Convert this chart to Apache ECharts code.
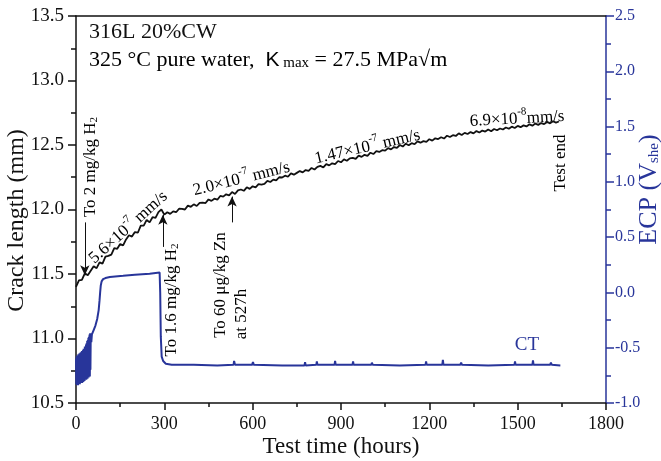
<!DOCTYPE html>
<html lang="en">
<head>
    <meta charset="UTF-8">
    <title>Crack length and ECP</title>
    <script src="https://cdn.jsdelivr.net/npm/echarts@6/dist/echarts.min.js"></script>
    <style>
        html, body { margin: 0; padding: 0; background: #fff; }
        #main { width: 661px; height: 461px; }
    </style>
</head>
<body>
    <div id="main"></div>
    <script type="text/javascript">
        // crack length (mm), sampled every 10 h from 0 h
        const crackStep = 10;
        const crackLen = [
            11.40, 11.45, 11.455, 11.505, 11.49, 11.525, 11.56, 11.545, 11.59, 11.58,
            11.635, 11.64, 11.65, 11.70, 11.695, 11.732, 11.722, 11.768, 11.80, 11.79,
            11.825, 11.82, 11.875, 11.875, 11.92, 11.90, 11.94, 11.935, 11.98, 12.00,
            11.96, 11.979, 11.966, 11.986, 11.979, 12.006, 12.005, 12.00, 12.03, 12.021,
            12.04, 12.027, 12.052, 12.053, 12.05, 12.078, 12.067, 12.084, 12.076, 12.105,
            12.10, 12.118, 12.11, 12.135, 12.12, 12.148, 12.155, 12.145, 12.172, 12.16,
            12.18, 12.172, 12.196, 12.193, 12.198, 12.222, 12.213, 12.232, 12.225, 12.25,
            12.248, 12.262, 12.254, 12.28, 12.27, 12.284, 12.298, 12.288, 12.306, 12.30,
            12.322, 12.31, 12.33, 12.338, 12.326, 12.352, 12.342, 12.358, 12.352, 12.376,
            12.366, 12.388, 12.378, 12.396, 12.40, 12.392, 12.418, 12.408, 12.424, 12.416,
            12.44, 12.43, 12.452, 12.446, 12.46, 12.456, 12.476, 12.466, 12.484, 12.478,
            12.50, 12.488, 12.51, 12.498, 12.514, 12.506, 12.528, 12.518, 12.53, 12.524,
            12.545, 12.534, 12.552, 12.546, 12.56, 12.55, 12.572, 12.562, 12.576, 12.57,
            12.59, 12.578, 12.594, 12.585, 12.60, 12.59, 12.608, 12.597, 12.612, 12.604,
            12.62, 12.607, 12.624, 12.614, 12.628, 12.62, 12.636, 12.626, 12.642, 12.632,
            12.648, 12.638, 12.652, 12.644, 12.66, 12.65, 12.666, 12.656, 12.67, 12.662,
            12.678, 12.668, 12.684, 12.674, 12.682
        ];

        // ECP (V_she) readings: time (h) and value
        const ecpTime = [
            0, 1, 2, 3, 4, 5, 6, 7, 8, 9, 10, 11, 12, 13, 14, 15, 16, 17, 18, 19,
            20, 21, 22, 23, 24, 25, 26, 27, 28, 29, 30, 31, 32, 33, 34, 35, 36, 37, 38, 39,
            40, 41, 42, 43, 44, 45, 46, 47, 48, 49, 50, 52, 54, 60, 66, 72, 77, 80, 82, 84,
            87, 92, 100, 115, 160, 200, 250, 284, 286, 288, 291, 296, 305, 325, 400, 480,
            535, 537, 540, 598, 601, 604, 700, 776, 778, 780, 816, 818, 820, 878, 880, 882,
            939, 941, 943, 1003, 1005, 1008, 1100, 1187, 1189, 1191, 1244, 1246, 1248,
            1305, 1308, 1311, 1400, 1489, 1491, 1493, 1550, 1552, 1554, 1610, 1613, 1616, 1645
        ];
        const ecpValue = [
            -0.60, -0.83, -0.58, -0.84, -0.57, -0.82, -0.59, -0.84, -0.56, -0.83,
            -0.57, -0.82, -0.55, -0.83, -0.56, -0.81, -0.54, -0.82, -0.55, -0.80,
            -0.53, -0.82, -0.54, -0.80, -0.52, -0.81, -0.51, -0.79, -0.52, -0.80,
            -0.49, -0.79, -0.50, -0.78, -0.47, -0.79, -0.46, -0.77, -0.44, -0.78,
            -0.43, -0.76, -0.41, -0.77, -0.40, -0.75, -0.38, -0.76, -0.37, -0.70,
            -0.40, -0.45, -0.38, -0.34, -0.30, -0.24, -0.16, -0.07, 0.00, 0.06,
            0.10, 0.12, 0.13, 0.14, 0.15, 0.16, 0.17, 0.18, 0.00, -0.40,
            -0.58, -0.62, -0.645, -0.655, -0.655, -0.66,
            -0.655, -0.62, -0.655, -0.655, -0.63, -0.655, -0.66, -0.66, -0.63, -0.66,
            -0.655, -0.625, -0.655, -0.655, -0.62, -0.655,
            -0.655, -0.625, -0.655, -0.655, -0.635, -0.655, -0.66, -0.655, -0.625, -0.655,
            -0.655, -0.61, -0.655,
            -0.655, -0.635, -0.655, -0.66, -0.655, -0.625, -0.655, -0.655, -0.615, -0.655,
            -0.655, -0.635, -0.655, -0.66
        ];

        // event arrows: time, from, to (crack length axis)
        const arrowTime = [30, 295, 530];
        const arrowFrom = [11.90, 11.71, 11.90];
        const arrowTo = [11.49, 11.96, 12.10];

        const xTicks = { min: 0, max: 1800, interval: 300 };
        const leftTicks = { min: 10.5, max: 13.5, interval: 0.5 };
        const rightTicks = { min: -1.0, max: 2.5, interval: 0.5 };

        const blue = '#28359a';
        const serif = 'Liberation Serif';

        const crackData = crackLen.map((v, i) => [i * crackStep, v]);
        const ecpData = ecpTime.map((t, i) => [t, ecpValue[i]]);
        const arrows = arrowTime.map((t, i) => [{ coord: [t, arrowFrom[i]] }, { coord: [t, arrowTo[i]] }]);

        const rich = {
            n: { fontFamily: serif, fontSize: 17, lineHeight: 21, verticalAlign: 'bottom', color: '#111' },
            sup: { fontFamily: serif, fontSize: 11, lineHeight: 11, verticalAlign: 'top', color: '#111' },
            sub: { fontFamily: serif, fontSize: 11, lineHeight: 11, verticalAlign: 'bottom', color: '#111' }
        };

        function note(text, x, y, deg) {
            return {
                type: 'text', x: x, y: y, rotation: deg * Math.PI / 180, silent: true,
                style: { text: text, rich: rich, align: 'center', verticalAlign: 'middle' }
            };
        }

        const chart = echarts.init(document.getElementById('main'));
        option = {
            animation: false,
            backgroundColor: '#fff',
            grid: { left: 76, right: 55, top: 16, bottom: 58, containLabel: false, outerBoundsMode: 'none' },
            xAxis: [{
                type: 'value',
                min: xTicks.min, max: xTicks.max, interval: xTicks.interval,
                name: 'Test time (hours)',
                nameLocation: 'middle',
                nameGap: 32,
                nameMoveOverlap: false,
                nameTextStyle: { fontFamily: serif, fontSize: 23, color: '#111' },
                axisLine: { onZero: false, lineStyle: { color: '#111', width: 1.5 } },
                axisTick: { length: 7, lineStyle: { color: '#111', width: 1.5 } },
                minorTick: { show: true, splitNumber: 2, length: 4, lineStyle: { color: '#111', width: 1.5 } },
                axisLabel: { fontFamily: serif, fontSize: 18, color: '#111', margin: 12, formatter: v => String(v) },
                splitLine: { show: false }
            }, {
                type: 'value', position: 'top',
                min: xTicks.min, max: xTicks.max,
                axisLine: { show: true, onZero: false, lineStyle: { color: '#111', width: 1.5 } },
                axisTick: { show: false },
                axisLabel: { show: false },
                splitLine: { show: false }
            }],
            yAxis: [{
                type: 'value', position: 'left',
                min: leftTicks.min, max: leftTicks.max, interval: leftTicks.interval,
                name: 'Crack length (mm)',
                nameLocation: 'middle',
                nameRotate: 90,
                nameGap: 47,
                nameMoveOverlap: false,
                nameTextStyle: { fontFamily: serif, fontSize: 24, color: '#111', padding: [0, 22, 0, 0] },
                axisLine: { show: true, onZero: false, lineStyle: { color: '#111', width: 1.5 } },
                axisTick: { length: 8, lineStyle: { color: '#111', width: 1.5 } },
                minorTick: { show: true, splitNumber: 2, length: 5, lineStyle: { color: '#111', width: 1.5 } },
                axisLabel: { fontFamily: serif, fontSize: 19, color: '#111', margin: 12, formatter: v => v.toFixed(1) },
                splitLine: { show: false }
            }, {
                type: 'value', position: 'right',
                min: rightTicks.min, max: rightTicks.max, interval: rightTicks.interval,
                name: '{a|ECP (V}{b|she}{a|)}',
                nameLocation: 'middle',
                nameRotate: 90,
                nameGap: 28,
                nameMoveOverlap: false,
                nameTextStyle: {
                    padding: [0, 0, 0, 40],
                    rich: {
                        a: { fontFamily: serif, fontSize: 26, color: blue, lineHeight: 28, verticalAlign: 'bottom' },
                        b: { fontFamily: serif, fontSize: 15, color: blue, lineHeight: 15, verticalAlign: 'bottom' }
                    }
                },
                axisLine: { show: true, onZero: false, lineStyle: { color: blue, width: 1.5 } },
                axisTick: { length: 8, lineStyle: { color: blue, width: 1.5 } },
                minorTick: { show: true, splitNumber: 2, length: 5, lineStyle: { color: blue, width: 1.5 } },
                axisLabel: { fontFamily: serif, fontSize: 16, color: blue, margin: 9, formatter: v => v.toFixed(1) },
                splitLine: { show: false }
            }],
            series: [{
                name: 'crack',
                type: 'line',
                xAxisIndex: 0, yAxisIndex: 0,
                data: crackData,
                showSymbol: false,
                lineStyle: { color: '#111', width: 1.8 },
                z: 3,
                markLine: {
                    silent: true,
                    symbol: ['none', 'arrow'],
                    symbolSize: [7, 10],
                    label: { show: false },
                    lineStyle: { color: '#111', width: 1, type: 'solid' },
                    data: arrows
                }
            }, {
                name: 'ECP',
                type: 'line',
                xAxisIndex: 0, yAxisIndex: 1,
                data: ecpData,
                showSymbol: false,
                lineStyle: { color: blue, width: 2 },
                z: 2
            }],
            graphic: [
                {
                    type: 'text', left: 89, top: 21, silent: true,
                    style: { text: '316L 20%CW', font: '22px "Liberation Serif"', fill: '#111' }
                },
                {
                    type: 'text', left: 89, top: 49, silent: true,
                    style: {
                        text: '{n|325 °C pure water,  }{k|K}{m| max}{n| = 27.5 MPa√m}',
                        rich: {
                            n: { fontFamily: serif, fontSize: 22, lineHeight: 26, verticalAlign: 'bottom', color: '#111' },
                            k: { fontFamily: 'Liberation Sans', fontSize: 21, lineHeight: 26, verticalAlign: 'bottom', color: '#111' },
                            m: { fontFamily: serif, fontSize: 15, lineHeight: 19, verticalAlign: 'bottom', color: '#111' }
                        }
                    }
                },
                note('{n|5.6×10}{sup|-7}{n| mm/s}', 127, 226, 42),
                note('{n|2.0×10}{sup|-7}{n| mm/s}', 241, 177, 14),
                note('{n|1.47×10}{sup|-7}{n| mm/s}', 367, 145, 13),
                note('{n|6.9×10}{sup|-8}{n|mm/s}', 517, 117, 3),
                note('{n|To 2 mg/kg H}{sub|2}', 89, 167, 90),
                note('{n|To 1.6 mg/kg H}{sub|2}', 170, 300, 90),
                note('{n|To 60 μg/kg Zn}', 219, 285, 90),
                note('{n|at 527h}', 240, 314, 90),
                note('{n|Test end}', 559, 163, 90),
                {
                    type: 'text', x: 527, y: 345, silent: true,
                    style: { text: 'CT', font: '19px "Liberation Serif"', fill: blue, align: 'center', verticalAlign: 'middle' }
                }
            ]
        };
        chart.setOption(option);
    </script>
</body>
</html>
